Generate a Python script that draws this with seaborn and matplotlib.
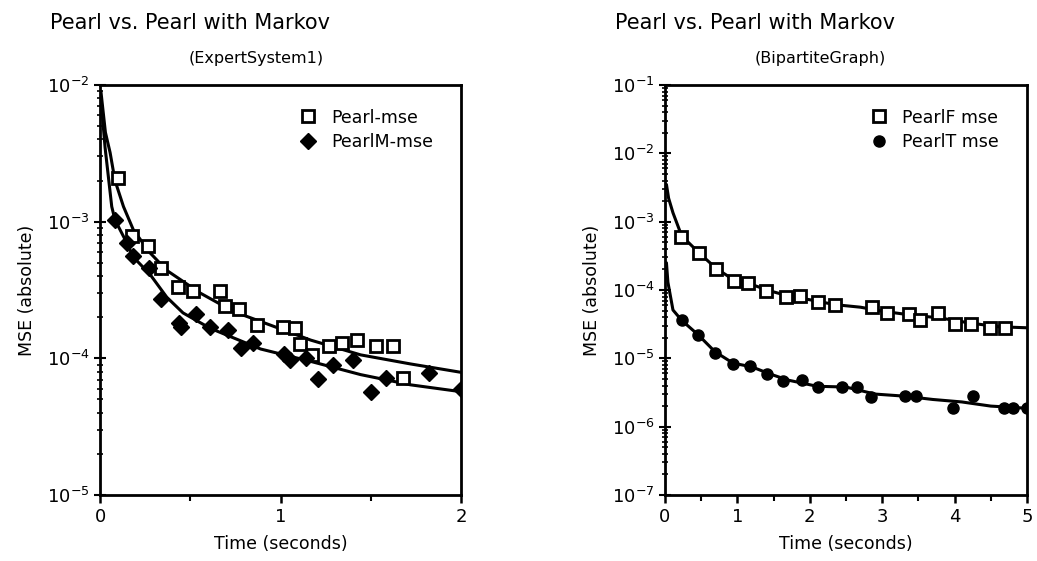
import numpy as np
import pandas as pd
import matplotlib
matplotlib.use("Agg")
import matplotlib.pyplot as plt
import seaborn as sns
from matplotlib.ticker import LogLocator, MultipleLocator, NullFormatter

# ---------------- data ----------------
# Left panel: ExpertSystem1
es_pearl_x = [0.10, 0.18, 0.265, 0.34, 0.43, 0.515, 0.667, 0.694, 0.77, 0.87, 1.015, 1.078,
              1.107, 1.176, 1.27, 1.34, 1.426, 1.528, 1.626, 1.68]
es_pearl_y = [2.1e-3, 7.9e-4, 6.6e-4, 4.6e-4, 3.35e-4, 3.1e-4, 3.1e-4, 2.4e-4, 2.3e-4, 1.74e-4,
              1.7e-4, 1.66e-4, 1.28e-4, 1.06e-4, 1.23e-4, 1.3e-4, 1.36e-4, 1.23e-4, 1.23e-4, 7.2e-5]
es_pearlm_x = [0.083, 0.148, 0.185, 0.27, 0.34, 0.44, 0.45, 0.533, 0.61, 0.707, 0.783, 0.85, 1.02,
               1.055, 1.14, 1.21, 1.29, 1.40, 1.50, 1.583, 1.82, 2.0]
es_pearlm_y = [1.03e-3, 7.0e-4, 5.6e-4, 4.6e-4, 2.7e-4, 1.8e-4, 1.7e-4, 2.1e-4, 1.7e-4, 1.6e-4,
               1.2e-4, 1.3e-4, 1.07e-4, 9.8e-5, 1.0e-4, 7.1e-5, 8.9e-5, 9.8e-5, 5.7e-5, 7.2e-5,
               7.8e-5, 6.0e-5]
es_fit_pearl_x = [0.005, 0.03, 0.056, 0.083, 0.13, 0.185, 0.278, 0.37, 0.556, 0.74, 0.89,
                  1.167, 1.444, 1.72, 2.0]
es_fit_pearl_y = [9e-3, 4.5e-3, 3.2e-3, 2.0e-3, 1.29e-3, 8.7e-4, 5.9e-4, 4.4e-4, 3.0e-4, 2.2e-4,
                  1.86e-4, 1.36e-4, 1.06e-4, 9.1e-5, 7.9e-5]
es_fit_pearlm_x = [0.005, 0.028, 0.065, 0.083, 0.139, 0.185, 0.278, 0.37, 0.46, 0.61, 0.89,
                   1.167, 1.444, 1.72, 2.0]
es_fit_pearlm_y = [8e-3, 3.5e-3, 1.29e-3, 1.03e-3, 7.4e-4, 5.5e-4, 4.1e-4, 2.8e-4, 2.15e-4,
                   1.66e-4, 1.17e-4, 9.5e-5, 7.6e-5, 6.4e-5, 5.7e-5]

# Right panel: BipartiteGraph
bg_pearlf_x = [0.217, 0.475, 0.705, 0.954, 1.14, 1.40, 1.67, 1.87, 2.12, 2.35, 2.86, 3.07, 3.37,
               3.52, 3.77, 4.0, 4.23, 4.49, 4.69]
bg_pearlf_y = [6.0e-4, 3.5e-4, 2.0e-4, 1.37e-4, 1.27e-4, 9.7e-5, 7.8e-5, 8.1e-5, 6.7e-5, 6.0e-5,
               5.7e-5, 4.6e-5, 4.5e-5, 3.7e-5, 4.6e-5, 3.2e-5, 3.2e-5, 2.8e-5, 2.8e-5]
bg_pearlt_x = [0.23, 0.46, 0.69, 0.94, 1.18, 1.41, 1.63, 1.89, 2.11, 2.44, 2.65, 2.84, 3.31, 3.47,
               3.98, 4.26, 4.68, 4.80, 5.0]
bg_pearlt_y = [3.6e-5, 2.2e-5, 1.2e-5, 8.2e-6, 7.7e-6, 5.9e-6, 4.7e-6, 4.9e-6, 3.8e-6, 3.8e-6,
               3.8e-6, 2.7e-6, 2.8e-6, 2.8e-6, 1.85e-6, 2.8e-6, 1.85e-6, 1.85e-6, 1.86e-6]
bg_fit_f_x = [0.02, 0.05, 0.11, 0.23, 0.47, 0.70, 0.95, 1.2, 1.45, 1.7, 2.0, 2.35, 2.7, 3.0, 3.4,
              3.8, 4.2, 4.6, 5.0]
bg_fit_f_y = [3.5e-3, 2.2e-3, 1.35e-3, 6.2e-4, 3.5e-4, 2.1e-4, 1.4e-4, 1.2e-4, 9.7e-5, 8.2e-5,
              7.2e-5, 6.1e-5, 5.6e-5, 4.9e-5, 4.3e-5, 3.9e-5, 3.3e-5, 2.9e-5, 2.8e-5]
bg_fit_t_x = [0.02, 0.04, 0.11, 0.23, 0.46, 0.69, 0.94, 1.2, 1.45, 1.7, 2.1, 2.5, 2.9, 3.3, 3.7,
              4.1, 4.5, 5.0]
bg_fit_t_y = [2.5e-4, 1.3e-4, 5.1e-5, 3.6e-5, 2.2e-5, 1.25e-5, 8.5e-6, 7.5e-6, 5.9e-6, 4.8e-6,
              3.9e-6, 3.8e-6, 3.0e-6, 2.8e-6, 2.5e-6, 2.3e-6, 2.0e-6, 1.86e-6]

left_title = "Pearl vs. Pearl with Markov"
left_sub = "(ExpertSystem1)"
right_title = "Pearl vs. Pearl with Markov"
right_sub = "(BipartiteGraph)"
left_labels = ["Pearl-mse", "PearlM-mse"]
right_labels = ["PearlF mse", "PearlT mse"]
xlabel = "Time (seconds)"
ylabel = "MSE (absolute)"

# ---------------- drawing ----------------
sns.set_style("ticks")
plt.rcParams["font.family"] = ["DejaVu Sans"]
plt.rcParams["text.color"] = "black"
plt.rcParams["axes.labelcolor"] = "black"
plt.rcParams["xtick.color"] = "black"
plt.rcParams["ytick.color"] = "black"

fig = plt.figure(figsize=(10.37, 5.61), dpi=100)
axL = fig.add_axes([100 / 1037, 1 - 495 / 561, 361 / 1037, 410 / 561])
axR = fig.add_axes([665 / 1037, 1 - 495 / 561, 362 / 1037, 410 / 561])


def panel(ax, sq_x, sq_y, fx_sq, fy_sq, bl_x, bl_y, fx_bl, fy_bl, labels, blob_marker,
          xmax, ylo, yhi):
    sns.lineplot(x=fx_sq, y=fy_sq, ax=ax, color="black", lw=2.2, sort=False,
                 estimator=None, legend=False)
    sns.lineplot(x=fx_bl, y=fy_bl, ax=ax, color="black", lw=2.2, sort=False,
                 estimator=None, legend=False)
    ax.plot(sq_x, sq_y, ls="none", marker="s", ms=8, mfc="white", mec="black",
            mew=2, label=labels[0], zorder=5)
    ax.plot(bl_x, bl_y, ls="none", marker=blob_marker, ms=8, mfc="black", mec="black",
            label=labels[1], zorder=5)
    ax.set_yscale("log")
    ax.set_xlim(0, xmax)
    ax.set_ylim(ylo, yhi)
    ax.yaxis.set_major_locator(LogLocator(base=10, numticks=20))
    ax.yaxis.set_minor_locator(LogLocator(base=10, subs=np.arange(2, 10), numticks=20))
    ax.yaxis.set_minor_formatter(NullFormatter())
    ax.xaxis.set_major_locator(MultipleLocator(1))
    ax.xaxis.set_minor_locator(MultipleLocator(0.5))
    for s in ax.spines.values():
        s.set_linewidth(2)
        s.set_color("black")
    ax.tick_params(axis="y", which="major", direction="inout", length=8, width=1.5,
                   labelsize=13, colors="black")
    ax.tick_params(axis="y", which="minor", direction="inout", length=5, width=1.2,
                   colors="black")
    ax.tick_params(axis="x", which="major", direction="out", length=6, width=1.8,
                   labelsize=13, colors="black")
    ax.tick_params(axis="x", which="minor", direction="out", length=4, width=1.5,
                   colors="black")
    ax.set_xlabel(xlabel, fontsize=12.5, labelpad=6, color="black")
    ax.set_ylabel(ylabel, fontsize=12.5, labelpad=8, color="black")
    leg = ax.legend(loc="upper right", frameon=False, fontsize=12.5, handletextpad=0.8,
                    borderaxespad=0.6, labelspacing=0.35, handlelength=1.0,
                    bbox_to_anchor=(0.97, 0.985))
    for t in leg.get_texts():
        t.set_color("black")
    return leg


panel(axL, es_pearl_x, es_pearl_y, es_fit_pearl_x, es_fit_pearl_y,
      es_pearlm_x, es_pearlm_y, es_fit_pearlm_x, es_fit_pearlm_y,
      left_labels, "D", 2, 1e-5, 1e-2)
panel(axR, bg_pearlf_x, bg_pearlf_y, bg_fit_f_x, bg_fit_f_y,
      bg_pearlt_x, bg_pearlt_y, bg_fit_t_x, bg_fit_t_y,
      right_labels, "o", 5, 1e-7, 1e-1)

fig.text(190 / 1037, 1 - 23 / 561, left_title, ha="center", va="center", fontsize=15,
         color="black")
fig.text(256 / 1037, 1 - 58 / 561, left_sub, ha="center", va="center", fontsize=11.5,
         color="black")
fig.text(755 / 1037, 1 - 23 / 561, right_title, ha="center", va="center", fontsize=15,
         color="black")
fig.text(820 / 1037, 1 - 58 / 561, right_sub, ha="center", va="center", fontsize=11.5,
         color="black")

fig.savefig("out.png", dpi=100, facecolor="white")
